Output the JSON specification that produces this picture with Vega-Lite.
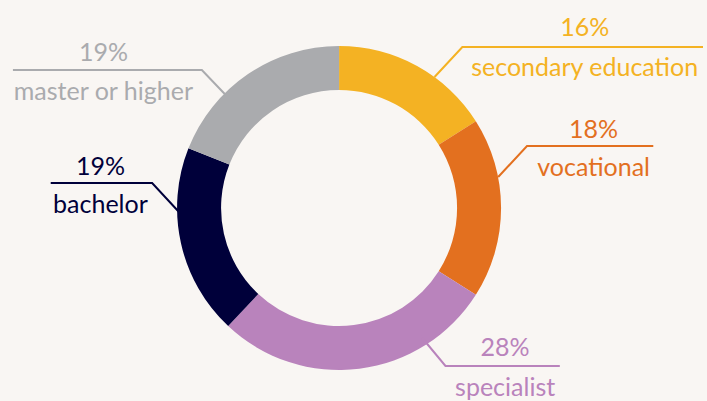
{
  "$schema": "https://vega.github.io/schema/vega-lite/v6.json",
  "width": 707,
  "height": 401,
  "padding": 0,
  "autosize": {"type": "fit", "contains": "padding"},
  "background": "#F9F6F3",
  "config": {"view": {"stroke": null}, "font": "Lato"},
  "datasets": {
    "shares": [
      {"category": "secondary education", "share": 0.16, "order": 1, "tx": 247, "pctY": 180, "labY": 140},
      {"category": "vocational", "share": 0.18, "order": 2, "tx": 256, "pctY": 78, "labY": 40},
      {"category": "specialist", "share": 0.28, "order": 3, "tx": 167, "pctY": -140, "labY": -180},
      {"category": "bachelor", "share": 0.19, "order": 4, "tx": -240, "pctY": 41, "labY": 3},
      {"category": "master or higher", "share": 0.19, "order": 5, "tx": -237, "pctY": 155, "labY": 116}
    ],
    "leaders": [
      {"category": "secondary education", "step": 1, "x": 96, "y": 131},
      {"category": "secondary education", "step": 2, "x": 124, "y": 161},
      {"category": "secondary education", "step": 3, "x": 366, "y": 161},
      {"category": "vocational", "step": 1, "x": 160, "y": 31},
      {"category": "vocational", "step": 2, "x": 189, "y": 62},
      {"category": "vocational", "step": 3, "x": 316, "y": 62},
      {"category": "specialist", "step": 1, "x": 82, "y": -128},
      {"category": "specialist", "step": 2, "x": 107, "y": -158},
      {"category": "specialist", "step": 3, "x": 222, "y": -158},
      {"category": "bachelor", "step": 1, "x": -161, "y": -4},
      {"category": "bachelor", "step": 2, "x": -188, "y": 25},
      {"category": "bachelor", "step": 3, "x": -290, "y": 25},
      {"category": "master or higher", "step": 1, "x": -114, "y": 113},
      {"category": "master or higher", "step": 2, "x": -138, "y": 138},
      {"category": "master or higher", "step": 3, "x": -328, "y": 138}
    ]
  },
  "encoding": {
    "color": {
      "field": "category",
      "type": "nominal",
      "scale": {
        "domain": ["secondary education", "vocational", "specialist", "bachelor", "master or higher"],
        "range": ["#F4B223", "#E3701F", "#B983BC", "#00003A", "#AAABAE"]
      },
      "legend": null
    }
  },
  "layer": [
    {
      "data": {"name": "shares"},
      "mark": {"type": "arc", "outerRadius": 162, "innerRadius": 118},
      "encoding": {
        "theta": {"field": "share", "type": "quantitative", "stack": true},
        "order": {"field": "order", "type": "quantitative", "sort": "ascending"},
        "x": {"datum": 0, "type": "quantitative", "scale": {"domain": [-341, 366], "nice": false, "zero": false}, "axis": null},
        "y": {"datum": 0, "type": "quantitative", "scale": {"domain": [-193, 208], "nice": false, "zero": false}, "axis": null}
      }
    },
    {
      "data": {"name": "leaders"},
      "mark": {"type": "line", "strokeWidth": 2, "interpolate": "linear"},
      "encoding": {
        "x": {"field": "x", "type": "quantitative"},
        "y": {"field": "y", "type": "quantitative"},
        "order": {"field": "step", "type": "quantitative"},
        "detail": {"field": "category"}
      }
    },
    {
      "data": {"name": "shares"},
      "mark": {"type": "text", "fontSize": 25, "baseline": "middle", "align": "center"},
      "encoding": {
        "x": {"field": "tx", "type": "quantitative"},
        "y": {"field": "pctY", "type": "quantitative"},
        "text": {"field": "share", "type": "quantitative", "format": ".0%"}
      }
    },
    {
      "data": {"name": "shares"},
      "mark": {"type": "text", "fontSize": 25, "baseline": "middle", "align": "center"},
      "encoding": {
        "x": {"field": "tx", "type": "quantitative"},
        "y": {"field": "labY", "type": "quantitative"},
        "text": {"field": "category", "type": "nominal"}
      }
    }
  ]
}
